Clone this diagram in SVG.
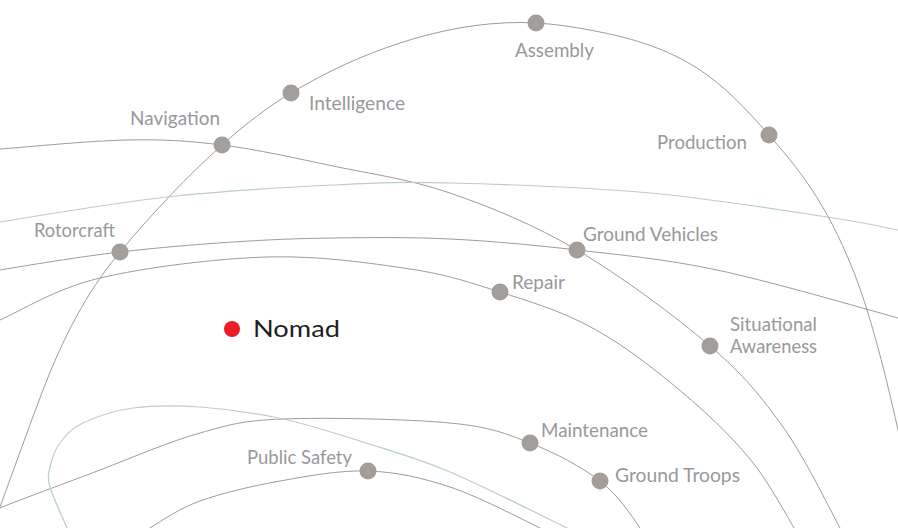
<svg xmlns="http://www.w3.org/2000/svg" width="898" height="528" viewBox="0 0 898 528">
  <style>
    .arc { fill: none; stroke: #a09c97; stroke-width: 1; }
    .arc.teal { stroke: #b8cecb; stroke-width: 1.2; }
    .dot { fill: #a39e99; }
    .label { font-family: Lato, "Liberation Sans", sans-serif; font-size: 19px; fill: #97999b; }
    .hub-dot { fill: #ed1c24; }
    .hub-label { font-family: Lato, "Liberation Sans", sans-serif; font-size: 23px; fill: #231f20; }
  </style>
  <rect width="898" height="528" fill="#ffffff"/>

  <g id="connectors">
    <!-- outer sweeping arc: Rotorcraft, Navigation, Intelligence, Assembly, Production -->
    <path id="arc-outer" class="arc" d="M -8 529 L 0 507 C 14.33 468.3, 28.67 427.3, 43 390 C 68.67 323.27, 94.33 282.8, 120 252 C 154 211.2, 188 175.6, 222 145 C 245 124.3, 268 106.8, 291 93 C 327.33 71.2, 363.67 54.77, 400 43 C 440 30.04, 480 22.5, 520 22.5 C 546.67 22.5, 573.33 26.67, 600 32 C 633.33 38.67, 666.67 48.33, 700 70 C 723 84.95, 746 108.55, 769 135 C 797 167.2, 825 200, 853 270 C 868 307.5, 883 362.5, 898 430 C 903 452.5, 910 510, 915 540"/>
    <!-- Navigation, Ground Vehicles, Situational Awareness -->
    <path id="arc-navigation" class="arc" d="M -20 150.5 L 0 149 C 27.83 147, 90 140.67, 127 140 C 164 139.33, 187.67 140.67, 222 145 C 256.33 149.33, 295 158, 333 166 C 371 174, 409.33 179, 450 193 C 490.67 207, 533.67 224.5, 577 250 C 620.33 275.5, 675.67 316.5, 710 346 C 744.33 375.5, 761.33 396.67, 783 427 C 804.67 457.33, 827.17 504.17, 840 528 C 852.83 551.83, 853.33 556, 860 570"/>
    <!-- upper teal sweep -->
    <path id="arc-teal-upper" class="arc teal" d="M -20 225 L 0 222 C 36.17 216.17, 111.5 203.17, 167 197 C 222.5 190.83, 285.83 187.33, 333 185 C 380.17 182.67, 397.17 181.67, 450 183 C 502.83 184.33, 587.17 187.33, 650 193 C 712.83 198.67, 785.67 210.83, 827 217 C 868.33 223.17, 877.5 226, 898 230 L 950 241"/>
    <!-- Rotorcraft, Ground Vehicles -->
    <path id="arc-rotorcraft" class="arc" d="M -20 274 L 0 270 C 26.67 265.5, 81.17 256.5, 120 252 C 158.83 247.5, 197.5 244.33, 233 242 C 268.5 239.67, 296.83 238.5, 333 238 C 369.17 237.5, 409.33 237, 450 239 C 490.67 241, 532.5 244.83, 577 250 C 621.5 255.17, 663.5 258.67, 717 270 C 770.5 281.33, 860.83 307.67, 898 318 C 935.17 328.33, 926.33 327.33, 940 332"/>
    <!-- Repair -->
    <path id="arc-repair" class="arc" d="M -20 329 L 0 320 C 21.67 310.5, 55.5 288.5, 100 278 C 144.5 267.5, 215.33 258.5, 267 257 C 318.67 255.5, 371.17 263.17, 410 269 C 448.83 274.83, 471.17 283, 500 292 C 527.67 300.85, 555.33 309.17, 583 323 C 616.33 339.67, 649.67 364.67, 683 393 C 705.33 411.98, 727.67 432.2, 750 459 C 764.67 476.6, 779.33 502.33, 794 528 C 799.33 537.33, 805 550, 810 560"/>
    <!-- Maintenance, Ground Troops -->
    <path id="arc-maintenance" class="arc" d="M -20 517 L 0 508 C 21.67 499, 66.67 482.83, 100 470 C 133.33 457.17, 169.5 441.5, 200 433 C 230.5 424.5, 241.33 420.67, 283 419 C 324.67 417.33, 408.83 419, 450 423 C 491.17 427, 505 433.33, 530 443 C 555 452.67, 581.67 466.83, 600 481 C 618.33 495.17, 630.83 514.83, 640 528 C 649.17 541.17, 650 549.33, 655 560"/>
    <!-- Public Safety -->
    <path id="arc-public-safety" class="arc" d="M 130 540 L 150 528 C 163.33 519.83, 178.33 508.83, 200 501 C 221.67 493.17, 252 486, 280 481 C 308 476, 339.67 470, 368 471 C 396.33 472, 421.33 477.5, 450 487 C 478.67 496.5, 520 518.33, 540 528 C 560 537.67, 560 539.33, 570 545"/>
    <!-- lower teal loop -->
    <path id="arc-teal-loop" class="arc teal" d="M 75 548 L 67 528 C 62 515.83, 52.83 497.17, 50 487 C 47.17 476.83, 48.33 474.33, 50 467 C 51.67 459.67, 54.5 450.33, 60 443 C 65.5 435.67, 70.83 428.83, 83 423 C 95.17 417.17, 113.5 410.67, 133 408 C 152.5 405.33, 175 405.17, 200 407 C 225 408.83, 255.33 413, 283 419 C 310.67 425, 338.17 434.17, 366 443 C 393.83 451.83, 416.5 457.83, 450 472 C 483.5 486.17, 542 515.83, 567 528 C 592 540.17, 589 539.33, 600 545"/>
  </g>

  <g id="node-assembly">
    <circle class="dot" cx="536" cy="23" r="8.5"/>
    <text class="label" x="515" y="57" textLength="79" lengthAdjust="spacingAndGlyphs">Assembly</text>
  </g>
  <g id="node-intelligence">
    <circle class="dot" cx="291" cy="93" r="8.5"/>
    <text class="label" x="309" y="110" textLength="96" lengthAdjust="spacingAndGlyphs">Intelligence</text>
  </g>
  <g id="node-navigation">
    <circle class="dot" cx="222" cy="145" r="8.5"/>
    <text class="label" x="130" y="125" textLength="90" lengthAdjust="spacingAndGlyphs">Navigation</text>
  </g>
  <g id="node-production">
    <circle class="dot" cx="769" cy="135" r="8.5"/>
    <text class="label" x="657" y="149" textLength="90" lengthAdjust="spacingAndGlyphs">Production</text>
  </g>
  <g id="node-rotorcraft">
    <circle class="dot" cx="120" cy="252" r="8.5"/>
    <text class="label" x="34" y="237" textLength="81" lengthAdjust="spacingAndGlyphs">Rotorcraft</text>
  </g>
  <g id="node-ground-vehicles">
    <circle class="dot" cx="577" cy="250" r="8.5"/>
    <text class="label" x="583" y="241" textLength="135" lengthAdjust="spacingAndGlyphs">Ground Vehicles</text>
  </g>
  <g id="node-repair">
    <circle class="dot" cx="500" cy="292" r="8.5"/>
    <text class="label" x="512" y="289" textLength="53" lengthAdjust="spacingAndGlyphs">Repair</text>
  </g>
  <g id="node-situational-awareness">
    <circle class="dot" cx="710" cy="346" r="8.5"/>
    <text class="label" x="730" y="331" textLength="87" lengthAdjust="spacingAndGlyphs">Situational</text>
    <text class="label" x="730" y="353" textLength="87" lengthAdjust="spacingAndGlyphs">Awareness</text>
  </g>
  <g id="node-maintenance">
    <circle class="dot" cx="530" cy="443" r="8.5"/>
    <text class="label" x="541" y="437" textLength="107" lengthAdjust="spacingAndGlyphs">Maintenance</text>
  </g>
  <g id="node-ground-troops">
    <circle class="dot" cx="600" cy="481" r="8.5"/>
    <text class="label" x="615" y="482" textLength="125" lengthAdjust="spacingAndGlyphs">Ground Troops</text>
  </g>
  <g id="node-public-safety">
    <circle class="dot" cx="368" cy="471" r="8.5"/>
    <text class="label" x="247" y="464" textLength="105" lengthAdjust="spacingAndGlyphs">Public Safety</text>
  </g>
  <g id="node-nomad">
    <circle class="hub-dot" cx="232" cy="329" r="8"/>
    <text class="hub-label" x="253" y="337" textLength="87" lengthAdjust="spacingAndGlyphs">Nomad</text>
  </g>
</svg>
